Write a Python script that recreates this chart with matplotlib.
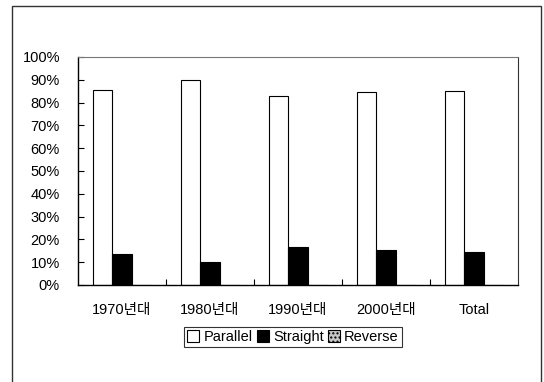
import matplotlib.pyplot as plt
from matplotlib.patches import Rectangle
import numpy as np

plt.rcParams['font.family'] = ['Liberation Sans', 'Noto Sans CJK KR', 'DejaVu Sans']

# data (percent)
categories = ['1970년대', '1980년대', '1990년대', '2000년대', 'Total']
parallel = [85.7, 90.1, 82.7, 84.5, 84.9]
straight = [13.8, 9.9, 16.8, 15.2, 14.6]
reverse = [0.0, 0.0, 0.0, 0.0, 0.0]
y_ticks = [0, 10, 20, 30, 40, 50, 60, 70, 80, 90, 100]

fig = plt.figure(figsize=(5.44, 3.82), dpi=100)
ax = fig.add_axes([78 / 544, 1 - 285 / 382, 440 / 544, 228 / 382])

x = np.arange(len(categories))
w = 0.22
ax.bar(x - w, parallel, w, color='white', edgecolor='black', linewidth=0.8, label='Parallel')
ax.bar(x, straight, w, color='black', edgecolor='black', linewidth=0.8, label='Straight')
ax.bar(x + w, reverse, w, color='#c8c8c8', edgecolor='black', linewidth=0.8,
       hatch='....', label='Reverse')

ax.set_xlim(-0.5, len(categories) - 0.5)
ax.set_ylim(0, 100)
ax.set_yticks(y_ticks)
ax.set_yticklabels([f'{v}%' for v in y_ticks], fontsize=10.5)
ax.tick_params(axis='y', direction='in', length=4, width=0.8, pad=13)

# category labels between boundary ticks
ax.set_xticks(x)
ax.set_xticklabels(categories, fontsize=10.5)
ax.tick_params(axis='x', which='major', length=0, pad=13)
ax.set_xticks(np.arange(0.5, len(categories) - 0.5, 1), minor=True)
ax.tick_params(axis='x', which='minor', direction='in', length=4, width=0.8)

for s in ['left', 'bottom']:
    ax.spines[s].set_color('black')
    ax.spines[s].set_linewidth(1.0)
ax.spines['top'].set_color('#777777')
ax.spines['right'].set_color('#333333')
ax.spines['top'].set_linewidth(0.8)
ax.spines['right'].set_linewidth(0.8)

leg = ax.legend(loc='center', bbox_to_anchor=(293 / 544, 1 - 337 / 382),
                bbox_transform=fig.transFigure, ncol=3, fontsize=10.5, frameon=True,
                fancybox=False, edgecolor='black', handlelength=0.8, handleheight=0.8,
                handletextpad=0.3, columnspacing=0.3, borderpad=0.2, borderaxespad=0)
leg.get_frame().set_linewidth(0.8)

# outer chart border
fig.patches.append(Rectangle((12 / 544, -0.05), 529 / 544, 1.05 - 6 / 382,
                             transform=fig.transFigure, fill=False,
                             edgecolor='#333333', linewidth=1.0))

fig.savefig('out.png', dpi=100)
